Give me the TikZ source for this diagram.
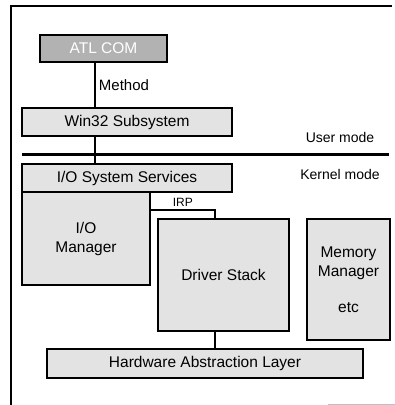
\documentclass[tikz,border=0pt]{standalone}
\usepackage{fontspec}
\setmainfont{Liberation Sans}
\usepackage{tikz}
\usetikzlibrary{arrows,positioning}

\begin{document}
\begin{tikzpicture}[x=1pt,y=-1pt,
    layer/.style={draw,line width=1.6pt,fill=gray!22,inner sep=0pt,
                  font=\fontsize{15.5}{19}\selectfont,align=center},
    modelabel/.style={font=\fontsize{14}{17}\selectfont}]
  \useasboundingbox (0,0) rectangle (395,405);
  % frame
  \draw[line width=1.6pt] (11,405) -- (11,6) -- (392,6);
  \draw[gray!50] (328,404) -- (395,404);

  \node[layer,fill=gray!60,text=white,minimum width=127pt,minimum height=27pt]
        (atl) at (103.5,48.5) {ATL COM};
  \node[layer,minimum width=210pt,minimum height=28pt]  (win) at (127,122)   {Win32 Subsystem};
  \node[layer,minimum width=210pt,minimum height=28pt]  (iss) at (127,178)   {I/O System Services};
  \node[layer,minimum width=128pt,minimum height=93pt]  (iom) at (86,238.5)  {I/O\\Manager};
  \node[layer,minimum width=131pt,minimum height=112pt] (drv) at (223.5,275) {Driver Stack};
  \node[layer,minimum width=83pt,minimum height=121pt]  (mem) at (348.5,279.5) {Memory\\Manager\\[17pt]etc};
  \node[layer,minimum width=316pt,minimum height=29pt]  (hal) at (205,363.5) {Hardware Abstraction Layer};

  \node[modelabel] (user)   at (340,137) {User mode};
  \node[modelabel] (kernel) at (340,174) {Kernel mode};

  % user / kernel boundary
  \draw[line width=3pt] (22,154) -- (389,154);

  \coordinate (up)   at (95,0);
  \coordinate (down) at (215,0);
  \coordinate (irp)  at (0,210);

  \draw[line width=1.2pt]
        (atl.south -| up) -- node[right,modelabel,font=\fontsize{15}{18}\selectfont]{Method} (win.north -| up)
        (win.south -| up) -- (iss.north -| up)
        (iom.east |- irp) -| node[pos=0.25,above,font=\fontsize{12}{14}\selectfont]{IRP} (drv.north -| down)
        (drv.south -| down) -- (hal.north -| down);
\end{tikzpicture}
\end{document}
